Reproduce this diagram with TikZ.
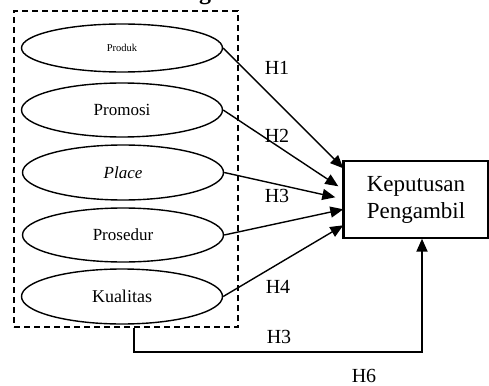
\documentclass[tikz,border=0pt]{standalone}
\usepackage{fontspec}
\setmainfont{Liberation Serif}
\usetikzlibrary{shapes.geometric,arrows.meta,calc}
\begin{document}
\begin{tikzpicture}[x=1pt,y=-1pt,
  var/.style={draw,ellipse,line width=1.4pt,minimum width=201pt,inner sep=0pt,font=\fontsize{17}{20}\selectfont},
  lbl/.style={anchor=base,inner sep=0pt,font=\fontsize{20}{24}\selectfont},
  arr/.style={line width=1.4pt,-{Triangle[length=13pt,width=11pt]}}]
\useasboundingbox (0,0) rectangle (489,385);
\clip (0,0) rectangle (489,385);
\node[anchor=base,inner sep=0pt,font=\fontsize{24}{28}\selectfont\bfseries] (ttl) at (205,0) {g};
\node[draw,dashed,dash pattern=on 6pt off 4pt,line width=1.4pt,minimum width=224pt,minimum height=316pt,inner sep=0pt] (grp) at (126,169) {};
\node[var,minimum height=48pt,font=\fontsize{10.5}{12}\selectfont] (e1) at (122,48) {Produk};
\node[var,minimum height=54pt] (e2) at (122,110) {Promosi};
\node[var,minimum height=55pt] (e3) at (123,172.5) {\itshape Place};
\node[var,minimum height=54pt] (e4) at (123,235) {Prosedur};
\node[var,minimum height=55pt,font=\fontsize{18}{20}\selectfont] (e5) at (122,296.5) {Kualitas};
\node[draw,line width=1.4pt,minimum width=144pt,minimum height=77pt,inner sep=0pt,align=center,font=\fontsize{23}{27}\selectfont] (k) at (416,199.5) {Keputusan\\Pengambil};
\draw[line width=3pt] (k.north west) -- (k.south west);
\draw[arr] (e1.east) -- ($(k.north west)+(0,8)$);
\draw[arr] (e2.east) -- ($(k.north west)+(-5,26)$);
\draw[arr] (e3.east) -- ($(k.north west)+(-8,37)$);
\draw[arr] (e4.east) -- ($(k.north west)+(0,49)$);
\draw[arr] (e5.east) -- ($(k.north west)+(0,65)$);
\coordinate (c0) at ($(grp.south west)+(121,0)$);
\draw[line width=2pt,-{Triangle[length=13pt,width=11pt]}] (c0) -- ++(0,24) -| ([xshift=6pt]k.south);
\node[lbl] (h1) at (277,75) {H1};
\node[lbl] (h2) at (277,142) {H2};
\node[lbl] (h3) at (277,202) {H3};
\node[lbl] (h4) at (278,293) {H4};
\node[lbl] (h3b) at (279,343) {H3};
\node[lbl] (h6) at (364,382) {H6};
\end{tikzpicture}
\end{document}
